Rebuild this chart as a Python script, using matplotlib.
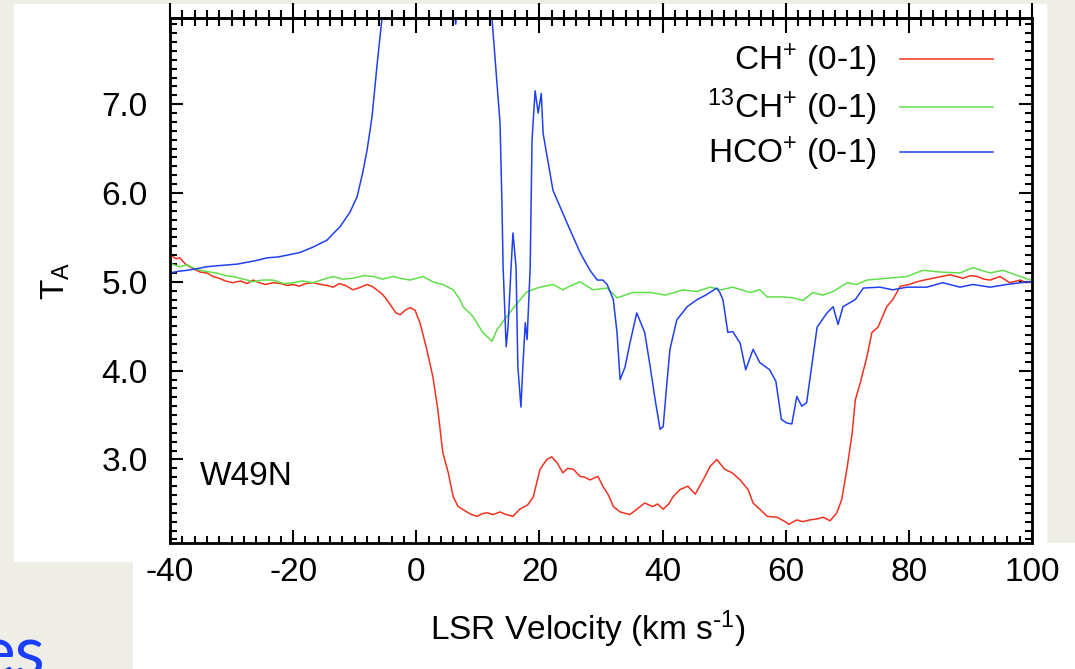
import matplotlib
matplotlib.use('Agg')
from matplotlib import pyplot as plt
from matplotlib.patches import Rectangle
from matplotlib.ticker import MultipleLocator, FormatStrFormatter

plt.rcParams['font.family'] = 'Liberation Sans'
plt.rcParams['mathtext.default'] = 'regular'
plt.rcParams['axes.unicode_minus'] = False

# CH+ (0-1)
ch_v = [-40, -39, -38.4, -37.5, -36.8, -36, -35.1, -34, -33, -32,
        -31, -29.8, -28.5, -27.5, -26.5, -25.5, -24.5, -23.3, -22, -21,
        -20, -19, -18, -16.8, -15.5, -14.5, -13.5, -12.5, -11.5, -10.3,
        -9, -8, -7.2, -6.4, -5.5, -4.8, -4, -3.3, -2.6, -1.8,
        -1.0, -0.2, 0.6, 1.7, 2.7, 3.5, 4.3, 5.2, 6.0, 6.8,
        8.2, 9.0, 9.9, 10.7, 11.5, 12.5, 13.6, 14.6, 15.7, 16.8,
        18.1, 19.0, 20.1, 21.2, 22.0, 22.9, 23.8, 24.6, 25.5, 26.6,
        27.4, 28.2, 29.5, 30.3, 31.2, 32.0, 33.1, 34.7, 35.8, 37.1,
        38.4, 39.2, 40.1, 41.0, 41.7, 42.8, 44.1, 45.3, 46.6, 47.7,
        48.8, 50.1, 51.3, 52.6, 53.9, 54.7, 55.8, 57.0, 58.6, 59.9,
        60.5, 61.8, 62.8, 63.9, 65.0, 66.1, 67.2, 68.3, 69.1, 70.0,
        70.8, 71.3, 72.1, 73.2, 74.0, 75.0, 76.4, 77.4, 78.6, 80.0,
        81.3, 82.5, 83.9, 85.3, 86.7, 88.8, 90.0, 91.1, 92.2, 93.2,
        94.8, 96.4, 98.1, 99.0, 100]
ch_t = [5.30, 5.26, 5.27, 5.20, 5.17, 5.14, 5.11, 5.10, 5.06, 5.04,
        5.01, 4.99, 5.01, 4.98, 5.02, 4.99, 4.97, 4.99, 4.98, 4.96,
        4.97, 4.95, 4.98, 4.99, 4.97, 4.96, 4.94, 4.98, 4.96, 4.91,
        4.94, 4.97, 4.95, 4.91, 4.86, 4.80, 4.72, 4.65, 4.63, 4.68,
        4.71, 4.68, 4.54, 4.24, 3.93, 3.56, 3.08, 2.85, 2.58, 2.47,
        2.41, 2.38, 2.36, 2.39, 2.40, 2.38, 2.41, 2.38, 2.36, 2.44,
        2.49, 2.58, 2.89, 3.00, 3.03, 2.96, 2.85, 2.90, 2.89, 2.81,
        2.80, 2.77, 2.81, 2.70, 2.60, 2.47, 2.41, 2.38, 2.44, 2.51,
        2.47, 2.50, 2.44, 2.50, 2.58, 2.66, 2.70, 2.61, 2.77, 2.92,
        3.00, 2.89, 2.85, 2.77, 2.66, 2.51, 2.44, 2.36, 2.35, 2.30,
        2.27, 2.32, 2.30, 2.32, 2.33, 2.35, 2.31, 2.40, 2.55, 2.92,
        3.30, 3.67, 3.86, 4.16, 4.43, 4.49, 4.72, 4.80, 4.95, 4.97,
        5.00, 5.02, 5.04, 5.06, 5.08, 5.04, 5.07, 5.06, 5.03, 5.02,
        5.06, 4.99, 5.02, 4.99, 5.00]

# 13CH+ (0-1)
c13_v = [-40, -38.5, -37.2, -36, -35.1, -33.5, -32.4, -31, -29.8, -28,
         -26.5, -25, -23.3, -21.5, -20, -18.5, -16.8, -15, -13.5, -12,
         -10.3, -8.5, -7.0, -5.5, -3.8, -2.6, -1, 1.1, 2.7, 4.3,
         6.0, 7.1, 7.6, 9.2, 10.8, 12.3, 13.1, 14.7, 16.4, 18.0,
         20.1, 22.2, 23.8, 25.2, 26.6, 28.7, 31.0, 32.6, 35.2, 38.0,
         40.5, 43.3, 45.5, 47.7, 49.5, 51.4, 54.2, 55.8, 57.0, 59.6,
         61.2, 62.8, 64.4, 66.0, 67.7, 70.0, 71.5, 73.2, 76.4, 79.7,
         82.3, 85.1, 88.3, 90.4, 93.2, 95.3, 98.1, 99.7, 100]
c13_t = [5.21, 5.17, 5.19, 5.15, 5.13, 5.11, 5.10, 5.07, 5.06, 5.03,
         5.00, 5.02, 5.02, 4.98, 4.99, 5.01, 4.99, 5.03, 5.06, 5.03,
         5.04, 5.07, 5.06, 5.03, 5.06, 5.04, 5.02, 5.06, 5.00, 4.97,
         4.91, 4.80, 4.72, 4.61, 4.43, 4.33, 4.46, 4.61, 4.76, 4.89,
         4.94, 4.97, 4.91, 4.96, 5.00, 4.91, 4.93, 4.82, 4.88, 4.88,
         4.85, 4.91, 4.89, 4.94, 4.91, 4.94, 4.88, 4.91, 4.83, 4.83,
         4.82, 4.79, 4.88, 4.85, 4.89, 4.99, 4.97, 5.02, 5.04, 5.06,
         5.13, 5.11, 5.10, 5.16, 5.10, 5.13, 5.06, 5.02, 5.04]

# HCO+ (0-1)
hco_v = [-40, -38.5, -37.2, -35.5, -34, -32.5, -30.7, -29, -27.5, -26,
         -24.2, -22.5, -21, -18.9, -16.8, -14.5, -12.4, -10.8, -9.6, -8.7,
         -8.0, -7.2, -6.4, -5.6, -4.5, -2, 1, 4, 5.5, 6.4,
         7.3, 10, 12.3, 13.6, 13.9, 14.1, 14.6, 14.9, 15.4, 15.7,
         16.2, 16.5, 17.0, 17.3, 17.7, 18.0, 18.5, 18.8, 19.3, 19.8,
         20.3, 20.6, 22.2, 24.5, 26.6, 28.2, 29.4, 30.3, 31.0, 32.0,
         32.6, 33.1, 33.9, 34.7, 35.8, 37.1, 38.0, 38.8, 39.6, 40.1,
         40.7, 41.2, 42.3, 44.0, 45.6, 47.0, 48.8, 49.3, 49.8, 50.6,
         51.4, 52.6, 53.5, 54.7, 55.8, 57.4, 58.4, 59.3, 60.2, 61.0,
         61.8, 62.6, 63.4, 64.2, 65.1, 66.7, 67.7, 68.5, 69.3, 71.3,
         72.6, 75.3, 77.4, 79.7, 82.9, 85.5, 88.3, 90.4, 93.2, 95.9,
         98.1, 99.7, 100]
hco_t = [5.10, 5.12, 5.13, 5.15, 5.17, 5.18, 5.19, 5.20, 5.22, 5.24,
         5.27, 5.28, 5.30, 5.33, 5.39, 5.47, 5.62, 5.78, 5.96, 6.23,
         6.48, 6.85, 7.42, 7.95, 8.6, 9.5, 9.8, 9.0, 8.5, 7.9,
         8.5, 9.0, 7.96, 6.79, 5.92, 5.17, 4.27, 4.49, 5.17, 5.55,
         5.17, 4.04, 3.59, 4.04, 4.54, 4.35, 5.17, 6.60, 7.15, 6.90,
         7.12, 6.67, 6.03, 5.66, 5.33, 5.13, 5.02, 5.02, 4.97, 4.80,
         4.43, 3.90, 4.04, 4.31, 4.65, 4.43, 4.04, 3.67, 3.34, 3.37,
         3.86, 4.24, 4.57, 4.72, 4.80, 4.85, 4.93, 4.88, 4.80, 4.43,
         4.44, 4.31, 4.01, 4.24, 4.09, 4.01, 3.88, 3.45, 3.41, 3.40,
         3.71, 3.60, 3.64, 4.04, 4.49, 4.65, 4.72, 4.52, 4.72, 4.80,
         4.93, 4.94, 4.91, 4.94, 4.94, 4.99, 4.94, 4.97, 4.94, 4.97,
         4.99, 5.00, 5.00]

labels = [r'CH$^{{+}}$ (0-1)', r'$^{13}$CH$^{{+}}$ (0-1)', r'HCO$^{{+}}$ (0-1)']
colors = ['#f0321e', '#5fe04a', '#2040f0']

W, H = 1075, 669
fig = plt.figure(figsize=(W / 100, H / 100), dpi=100, facecolor='#eeede6')

# white picture pasted on the slide
fig.add_artist(Rectangle((14 / W, 1 - 561 / H), (1046 - 14) / W, (561 - 4) / H,
                         transform=fig.transFigure, color='white', zorder=-10))
fig.add_artist(Rectangle((133 / W, 0), 1 - 133 / W, (669 - 543) / H,
                         transform=fig.transFigure, color='white', zorder=-10))
fig.text(-22 / W, -6 / H, 'es', color='#1b3dfc', fontsize=50, family='Lato',
         va='baseline', ha='left')

ax = fig.add_axes([170 / W, 1 - 543 / H, (1032 - 170) / W, (543 - 18) / H])
ax.set_facecolor('none')

ax.plot(ch_v, ch_t, color=colors[0], lw=1.1, label=labels[0])
ax.plot(c13_v, c13_t, color=colors[1], lw=1.1, label=labels[1])
ax.plot(hco_v, hco_t, color=colors[2], lw=1.1, label=labels[2])

ax.set_xlim(-40, 100)
ax.set_ylim(2.06, 7.97)

ax.xaxis.set_major_locator(MultipleLocator(20))
ax.xaxis.set_minor_locator(MultipleLocator(2))
ax.yaxis.set_major_locator(MultipleLocator(1.0))
ax.yaxis.set_minor_locator(MultipleLocator(0.1))
ax.yaxis.set_major_formatter(FormatStrFormatter('%.1f'))

ax.tick_params(axis='both', which='both', direction='in', top=False,
               right=True, width=1.5, labelsize=24)
ax.tick_params(axis='both', which='major', length=9.5)
ax.tick_params(axis='both', which='minor', length=5)
ax.tick_params(axis='x', which='major', pad=10)
ax.tick_params(axis='y', which='major', pad=16)
for s in ax.spines.values():
    s.set_linewidth(2)

# top axis has crossing ticks
top = ax.secondary_xaxis('top')
top.xaxis.set_major_locator(MultipleLocator(20))
top.xaxis.set_minor_locator(MultipleLocator(2))
top.tick_params(axis='x', which='both', direction='inout', width=1.5,
                labeltop=False)
top.tick_params(axis='x', which='major', length=21)
top.tick_params(axis='x', which='minor', length=11)
top.spines['top'].set_linewidth(2)

ax.set_xlabel(r'LSR Velocity (km s$^{\text{-}1}$)', fontsize=24)
ax.xaxis.set_label_coords(0.485, -0.124)
ax.set_ylabel(r'T$_A$', fontsize=24)
ax.yaxis.set_label_coords(-0.114, 0.5)

ax.text(-35.1, 2.81, 'W49N', fontsize=24, va='center', ha='left')

ax.legend(loc='upper right', bbox_to_anchor=(0.955, 0.955), frameon=False,
          markerfirst=False, fontsize=24, handlelength=2.8,
          handletextpad=0.7, labelspacing=0.2, borderpad=0, borderaxespad=0)

fig.savefig('out.png', dpi=100, facecolor=fig.get_facecolor())
